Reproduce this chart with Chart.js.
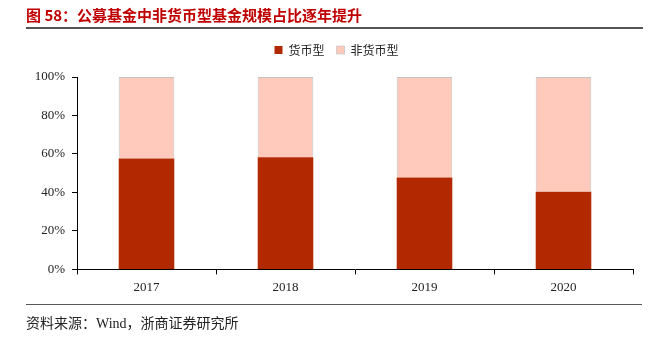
<!DOCTYPE html>
<html>
<head>
<meta charset="utf-8">
<script src="https://cdn.jsdelivr.net/npm/chart.js@4"></script>
<style>
  body { margin: 0; background: #fff; }
  #wrap { position: relative; width: 652px; height: 339px; }
  #title {
    position: absolute; left: 26px; top: 4px;
    font: bold 15px "Noto Sans CJK SC", sans-serif; color: #c00000;
  }
  #rule1 { position: absolute; left: 26px; top: 27px; width: 617px; height: 2px; background: #555; }
  #rule2 { position: absolute; left: 26px; top: 304px; width: 616px; height: 1px; background: #555; }
  #source {
    position: absolute; left: 26px; top: 312px;
    font: 14px "Liberation Serif", "Noto Sans CJK SC", serif; color: #222;
  }
  canvas { position: absolute; left: 0; top: 0; }
</style>
</head>
<body>
<div id="wrap">
  <canvas id="chart" width="652" height="339"></canvas>
  <div id="title">图 58：公募基金中非货币型基金规模占比逐年提升</div>
  <div id="rule1"></div>
  <div id="rule2"></div>
  <div id="source">资料来源：Wind，浙商证券研究所</div>
</div>
<script>
"use strict";

// Data
const years = ["2017", "2018", "2019", "2020"];
const moneyShare = [57.7, 58.3, 47.8, 40.3];
const nonMoneyShare = [42.3, 41.7, 52.2, 59.7];
const yTicks = [0, 20, 40, 60, 80, 100];

const tickFont = { family: "'Liberation Serif', 'Times New Roman', serif", size: 13 };

// Extra space under the legend, and legend centred over the plot area
const legendTweak = {
  id: "legendTweak",
  beforeInit: function (chart) {
    const fit = chart.legend.fit;
    chart.legend.fit = function () {
      fit.call(this);
      this.height += 11;
    };
  },
  afterLayout: function (chart) {
    chart.legend.left += 20;
    chart.legend.right += 20;
  },
};

const ctx = document.getElementById("chart").getContext("2d");
new Chart(ctx, {
  type: "bar",
  data: {
    labels: years,
    datasets: [
      {
        label: "货币型",
        data: moneyShare,
        backgroundColor: "#b22800",
        borderWidth: 0,
        barPercentage: 0.4,
        categoryPercentage: 1,
      },
      {
        label: "非货币型",
        data: nonMoneyShare,
        backgroundColor: "#ffcabb",
        borderColor: "#c4c4c4",
        borderWidth: { left: 1, right: 1, top: 1, bottom: 0 },
        borderSkipped: "bottom",
        barPercentage: 0.4,
        categoryPercentage: 1,
      },
    ],
  },
  plugins: [legendTweak],
  options: {
    responsive: false,
    animation: false,
    layout: { padding: { top: 32, right: 19, bottom: 39, left: 0 } },
    plugins: {
      tooltip: { enabled: false },
      legend: {
        position: "top",
        labels: {
          boxWidth: 8,
          boxHeight: 8,
          padding: 12,
          color: "#222",
          font: { family: "'Noto Sans CJK SC', sans-serif", size: 12 },
        },
      },
    },
    scales: {
      x: {
        stacked: true,
        border: { color: "#000", width: 1 },
        grid: { drawOnChartArea: false, drawTicks: true, tickLength: 5, color: "#000", offset: true },
        ticks: { color: "#222", font: tickFont, padding: 5 },
      },
      y: {
        stacked: true,
        min: 0,
        max: 100,
        afterFit: (axis) => { axis.width = 77; },
        afterBuildTicks: (axis) => { axis.ticks = yTicks.map((v) => ({ value: v })); },
        border: { color: "#000", width: 1 },
        grid: { drawOnChartArea: false, drawTicks: true, tickLength: 5, color: "#000" },
        ticks: {
          color: "#222",
          font: tickFont,
          padding: 7,
          callback: (v) => v + "%",
        },
      },
    },
  },
});
</script>
</body>
</html>
